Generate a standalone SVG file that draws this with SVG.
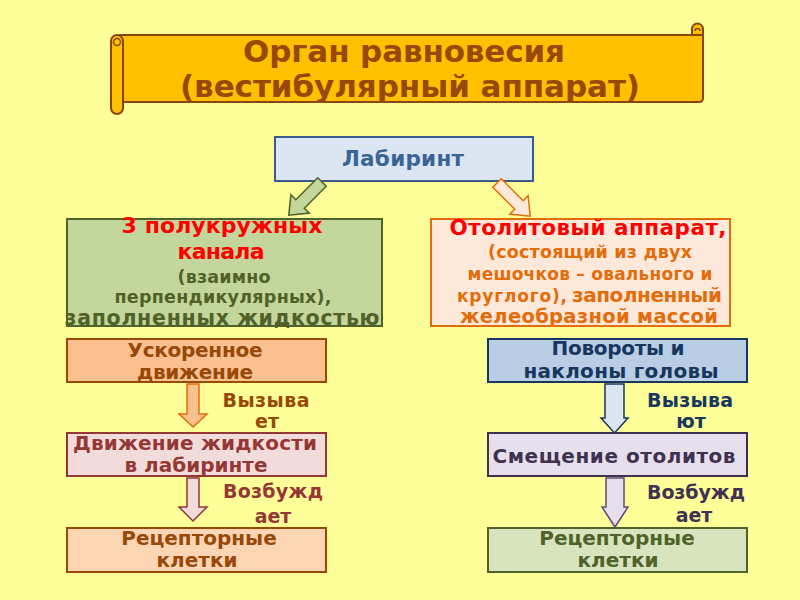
<svg xmlns="http://www.w3.org/2000/svg" width="800" height="600" viewBox="0 0 800 600">
<style>
text{font-family:"DejaVu Sans","Liberation Sans",sans-serif;font-weight:bold;text-anchor:middle}
.st{text-anchor:start}
.box{stroke-width:2}
.arr{stroke-width:1.5}
.scroll{fill:#FFC000;stroke:#8B4513;stroke-width:2}
</style>
<rect x="0" y="0" width="800" height="600" fill="#FFFF99"/>

<g id="title">
  <path class="scroll" d="M692,35 V29 A5.5,5.5 0 0 1 703,29 V35 Z"/>
  <path class="scroll" d="M120,35 H703 V98 Q703,102 699,102 H120 Z"/>
  <path d="M695,31 A2.5,2.5 0 1 1 700,31" fill="none" stroke="#8B4513" stroke-width="1.5"/>
  <rect class="scroll" x="111" y="35" width="12" height="79" rx="6"/>
  <circle cx="117" cy="42" r="3.5" fill="#FFC000" stroke="#8B4513" stroke-width="1.5"/>
  <text x="404" y="62" font-size="31" fill="#984807" textLength="322">Орган равновесия</text>
  <text x="410" y="97" font-size="31" fill="#984807" textLength="460">(вестибулярный аппарат)</text>
</g>

<g id="labyrinth">
  <rect class="box" x="275" y="137" width="258" height="44" fill="#DCE6F2" stroke="#385D8A"/>
  <text x="403" y="166" font-size="21.5" fill="#3B6496" textLength="122">Лабиринт</text>
</g>

<g id="canals">
  <rect class="box" x="67" y="219" width="315" height="107" fill="#C3D69B" stroke="#4F6228"/>
  <text x="222" y="233" font-size="22" fill="#FF0000" textLength="201">3 полукружных</text>
  <text x="221" y="259" font-size="22" fill="#FF0000" textLength="87">канала</text>
  <text x="224" y="283" font-size="17.5" fill="#4F6228" textLength="93">(взаимно</text>
  <text x="223" y="303" font-size="17.5" fill="#4F6228" textLength="217">перпендикулярных),</text>
  <text x="222" y="325" font-size="20.5" fill="#4F6228" textLength="315">заполненных жидкостью</text>
  <rect x="67" y="325" width="315" height="2" fill="#4F6228"/>
</g>

<g id="otolith">
  <rect class="box" x="431" y="219" width="299" height="107" fill="#FDE9D9" stroke="#E46C0A"/>
  <text x="588" y="235" font-size="21.5" fill="#FF0000" textLength="277">Отолитовый аппарат,</text>
  <text x="590" y="258" font-size="17.5" fill="#E46C0A" textLength="204">(состоящий из двух</text>
  <text x="590" y="280" font-size="17" fill="#E46C0A" textLength="245">мешочков – овального и</text>
  <text class="st" x="457" y="302" font-size="17" fill="#E46C0A" textLength="110">круглого),</text>
  <text class="st" x="572" y="302" font-size="20" fill="#E46C0A" textLength="150">заполненный</text>
  <text x="589" y="323" font-size="19.5" fill="#E46C0A" textLength="258">желеобразной массой</text>
  <rect x="431" y="325" width="299" height="2" fill="#E46C0A"/>
</g>

<g id="accel">
  <rect class="box" x="67" y="339" width="259" height="43" fill="#FAC090" stroke="#984807"/>
  <text x="195" y="357" font-size="20" fill="#984807" textLength="135">Ускоренное</text>
  <text x="195" y="379" font-size="20" fill="#984807" textLength="116">движение</text>
</g>

<g id="fluid">
  <rect class="box" x="67" y="433" width="259" height="43" fill="#F2DCDB" stroke="#953735"/>
  <text x="195" y="450" font-size="20" fill="#953735" textLength="244">Движение жидкости</text>
  <text x="196" y="472" font-size="20" fill="#953735">в лабиринте</text>
</g>

<g id="receptors-left">
  <rect class="box" x="67" y="528" width="259" height="44" fill="#FCD5B5" stroke="#984807"/>
  <text x="199" y="545" font-size="20" fill="#984807">Рецепторные</text>
  <text x="197" y="567" font-size="20" fill="#984807">клетки</text>
</g>

<g id="turns">
  <rect class="box" x="488" y="339" width="259" height="43" fill="#B9CDE5" stroke="#17375E"/>
  <text x="618" y="355" font-size="20" fill="#17375E" textLength="133">Повороты и</text>
  <text x="621" y="378" font-size="20" fill="#17375E" textLength="195">наклоны головы</text>
</g>

<g id="shift">
  <rect class="box" x="488" y="433" width="259" height="43" fill="#E6E0EC" stroke="#403151"/>
  <text x="614" y="463" font-size="20" fill="#403151" textLength="243">Смещение отолитов</text>
</g>

<g id="receptors-right">
  <rect class="box" x="488" y="528" width="259" height="44" fill="#D7E4BD" stroke="#4F6228"/>
  <text x="617" y="545" font-size="20" fill="#4F6228">Рецепторные</text>
  <text x="618" y="567" font-size="20" fill="#4F6228">клетки</text>
</g>

<g id="connectors">
  <path class="arr" transform="translate(322,182) rotate(135)" d="M0,-6 H31 V-13 L47,0 L31,13 V6 H0 Z" fill="#C3D69B" stroke="#4F6228"/>
  <path class="arr" transform="translate(497,183) rotate(45)" d="M0,-6 H31 V-13 L47,0 L31,13 V6 H0 Z" fill="#FDE9D9" stroke="#E46C0A"/>
  <path class="arr" d="M187,384 H199 V414 H207 L193,427 L179,414 H187 Z" fill="#FAC090" stroke="#E46C0A"/>
  <path class="arr" d="M187,478 H199 V507 H207 L193,521 L179,507 H187 Z" fill="#F2DCDB" stroke="#953735"/>
  <path class="arr" d="M605,384 H624 V418 H628 L614.5,433 L601,418 H605 Z" fill="#DCE6F2" stroke="#17375E"/>
  <path class="arr" d="M606,478 H624 V507 H628 L615,527 L602,507 H606 Z" fill="#E6E0EC" stroke="#5F497A"/>
</g>

<g id="labels">
  <text x="266" y="407" font-size="19" fill="#984807" textLength="87">Вызыва</text>
  <text x="267" y="428" font-size="19" fill="#984807">ет</text>
  <text x="273" y="498" font-size="19" fill="#953735" textLength="100">Возбужд</text>
  <text x="273" y="523" font-size="19" fill="#953735">ает</text>
  <text x="690" y="407" font-size="19" fill="#17375E" textLength="86">Вызыва</text>
  <text x="691" y="428" font-size="19" fill="#17375E">ют</text>
  <text x="696" y="499" font-size="19" fill="#403151" textLength="98">Возбужд</text>
  <text x="694" y="522" font-size="19" fill="#403151">ает</text>
</g>
</svg>
